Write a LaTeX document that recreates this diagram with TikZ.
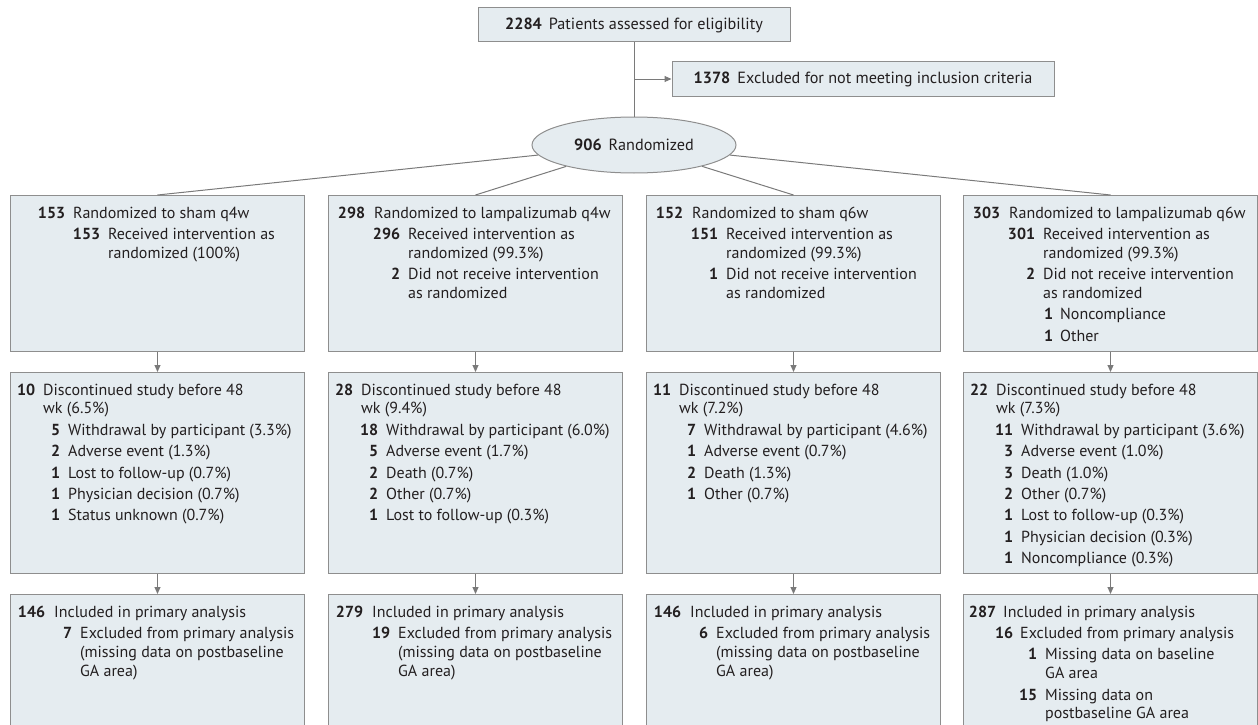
\documentclass[tikz,border=0pt]{standalone}
\usepackage{fontspec}
\setmainfont{PT Sans}
\usetikzlibrary{arrows.meta,shapes.geometric}
\definecolor{boxfill}{HTML}{E5ECF0}
\definecolor{boxline}{HTML}{8E8E8E}
\definecolor{conline}{HTML}{7A7A7A}
\definecolor{txtcol}{HTML}{231F20}
\newcommand\fl[4]{\noindent\rlap{\hspace*{#1pt}\llap{\textbf{#3}}}\hspace*{#2pt}#4\par}
\newcommand\il[4]{\vspace{2.6pt}\fl{#1}{#2}{#3}{#4}}
\newcommand\cl[2]{\noindent\hspace*{#1pt}#2\par}
\newcommand\boxtext[1]{\parbox[t]{420pt}{\fontsize{16pt}{18.8pt}\selectfont\setlength\parskip{0pt}#1}}
\tikzset{
  fbox/.style={draw=boxline, fill=boxfill, line width=1pt, inner sep=0pt, anchor=north west, minimum width=294pt},
  topbox/.style={draw=boxline, fill=boxfill, line width=1pt, inner sep=0pt, minimum height=34pt, text=txtcol, font=\fontsize{16.2pt}{19pt}\selectfont},
  txt/.style={inner sep=0pt, anchor=base west, text=txtcol},
  conn/.style={draw=conline, line width=1pt},
  arr/.style={conn, -{Triangle[length=7pt,width=6pt]}}
}
\begin{document}
\begin{tikzpicture}[x=1pt,y=-1pt]
\useasboundingbox (0,0) rectangle (1258,725);
\clip (0,0) rectangle (1258,725);
% top
\node[topbox, minimum width=312pt] (elig) at (634,25) {\textbf{2284}\hspace{7pt}Patients assessed for eligibility};
\node[topbox, minimum width=382pt] (excl) at (863,79) {\textbf{1378}\hspace{7pt}Excluded for not meeting inclusion criteria};
\node[topbox, ellipse, minimum width=204pt, minimum height=56pt] (rand) at (634,145) {\textbf{906}\hspace{7pt}Randomized};
\coordinate (j) at (634,79);
\draw[conn] (elig.south) -- (rand.north);
\draw[arr] (j) -- (excl.west);
% row 1
\node[fbox, minimum height=156pt] (b11) at (10,195) {};
\node[fbox, minimum height=156pt] (b12) at (328,195) {};
\node[fbox, minimum height=156pt] (b13) at (646,195) {};
\node[fbox, minimum height=156pt] (b14) at (963,195) {};
% row 2
\node[fbox, minimum height=201pt] (b21) at (10,372) {};
\node[fbox, minimum height=201pt] (b22) at (328,372) {};
\node[fbox, minimum height=201pt] (b23) at (646,372) {};
\node[fbox, minimum height=201pt] (b24) at (963,372) {};
% row 3
\node[fbox, minimum height=150pt] (b31) at (10,594) {};
\node[fbox, minimum height=150pt] (b32) at (328,594) {};
\node[fbox, minimum height=150pt] (b33) at (646,594) {};
\node[fbox, minimum height=150pt] (b34) at (963,594) {};
% connectors
\foreach \c in {1,2,3,4}{
  \draw[conn] (rand) -- (b1\c.north);
  \draw[arr] (b1\c.south) -- (b2\c.north);
  \draw[arr] (b2\c.south) -- (b3\c.north);
}
% row 1 text
\node[txt] (t11) at (10,218) {\boxtext{%
\fl{55}{63}{153}{Randomized to sham q4w}
\il{90}{98}{153}{Received intervention as}
\cl{98}{randomized (100\%)}}};
\node[txt] (t12) at (328,218) {\boxtext{%
\fl{37}{46}{298}{Randomized to lampalizumab q4w}
\il{72}{80}{296}{Received intervention as}
\cl{80}{randomized (99.3\%)}
\il{72}{80}{2}{Did not receive intervention}
\cl{80}{as randomized}}};
\node[txt] (t13) at (646,218) {\boxtext{%
\fl{37}{46}{152}{Randomized to sham q6w}
\il{72}{80}{151}{Received intervention as}
\cl{80}{randomized (99.3\%)}
\il{72}{80}{1}{Did not receive intervention}
\cl{80}{as randomized}}};
\node[txt] (t14) at (963,218) {\boxtext{%
\fl{37}{46}{303}{Randomized to lampalizumab q6w}
\il{72}{80}{301}{Received intervention as}
\cl{80}{randomized (99.3\%)}
\il{72}{80}{2}{Did not receive intervention}
\cl{80}{as randomized}
\il{90}{97}{1}{Noncompliance}
\il{90}{97}{1}{Other}}};
% row 2 text
\node[txt] (t21) at (10,395) {\boxtext{%
\fl{25}{33}{10}{Discontinued study before 48}
\cl{33}{wk (6.5\%)}
\il{50}{58}{5}{Withdrawal by participant (3.3\%)}
\il{50}{58}{2}{Adverse event (1.3\%)}
\il{50}{58}{1}{Lost to follow-up (0.7\%)}
\il{50}{58}{1}{Physician decision (0.7\%)}
\il{50}{58}{1}{Status unknown (0.7\%)}}};
\node[txt] (t22) at (328,395) {\boxtext{%
\fl{25}{33}{28}{Discontinued study before 48}
\cl{33}{wk (9.4\%)}
\il{50}{58}{18}{Withdrawal by participant (6.0\%)}
\il{50}{58}{5}{Adverse event (1.7\%)}
\il{50}{58}{2}{Death (0.7\%)}
\il{50}{58}{2}{Other (0.7\%)}
\il{50}{58}{1}{Lost to follow-up (0.3\%)}}};
\node[txt] (t23) at (646,395) {\boxtext{%
\fl{25}{33}{11}{Discontinued study before 48}
\cl{33}{wk (7.2\%)}
\il{50}{58}{7}{Withdrawal by participant (4.6\%)}
\il{50}{58}{1}{Adverse event (0.7\%)}
\il{50}{58}{2}{Death (1.3\%)}
\il{50}{58}{1}{Other (0.7\%)}}};
\node[txt] (t24) at (963,395) {\boxtext{%
\fl{25}{33}{22}{Discontinued study before 48}
\cl{33}{wk (7.3\%)}
\il{50}{58}{11}{Withdrawal by participant (3.6\%)}
\il{50}{58}{3}{Adverse event (1.0\%)}
\il{50}{58}{3}{Death (1.0\%)}
\il{50}{58}{2}{Other (0.7\%)}
\il{50}{58}{1}{Lost to follow-up (0.3\%)}
\il{50}{58}{1}{Physician decision (0.3\%)}
\il{50}{58}{1}{Noncompliance (0.3\%)}}};
% row 3 text
\node[txt] (t31) at (10,617) {\boxtext{%
\fl{35}{44}{146}{Included in primary analysis}
\il{62}{70}{7}{Excluded from primary analysis}
\cl{70}{(missing data on postbaseline}
\cl{70}{GA area)}}};
\node[txt] (t32) at (328,617) {\boxtext{%
\fl{35}{44}{279}{Included in primary analysis}
\il{62}{70}{19}{Excluded from primary analysis}
\cl{70}{(missing data on postbaseline}
\cl{70}{GA area)}}};
\node[txt] (t33) at (646,617) {\boxtext{%
\fl{35}{44}{146}{Included in primary analysis}
\il{62}{70}{6}{Excluded from primary analysis}
\cl{70}{(missing data on postbaseline}
\cl{70}{GA area)}}};
\node[txt] (t34) at (963,617) {\boxtext{%
\fl{33}{40}{287}{Included in primary analysis}
\il{50}{57}{16}{Excluded from primary analysis}
\il{74}{82}{1}{Missing data on baseline}
\cl{82}{GA area}
\il{74}{82}{15}{Missing data on}
\cl{82}{postbaseline GA area}}};
\end{tikzpicture}
\end{document}
